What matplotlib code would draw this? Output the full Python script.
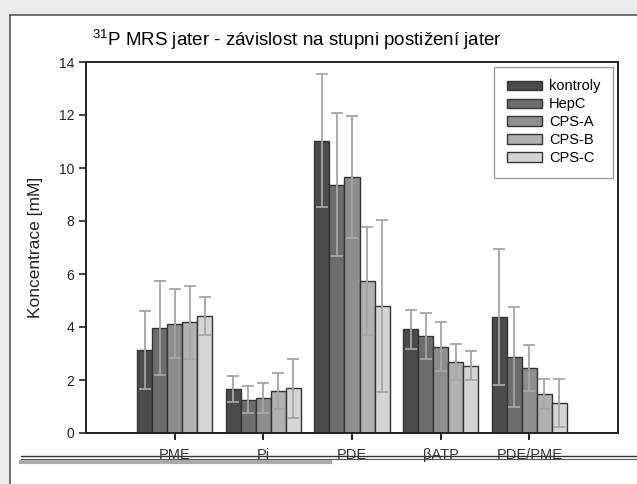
import numpy as np
import matplotlib.pyplot as plt
from matplotlib.patches import Rectangle
from matplotlib.lines import Line2D

plt.rcParams['font.family'] = ['Liberation Sans', 'DejaVu Sans']
plt.rcParams['mathtext.fontset'] = 'custom'
plt.rcParams['mathtext.rm'] = 'Liberation Sans'

# Metabolite concentrations (mean and SD) per patient group
metabolites = ['PME', 'Pi', 'PDE', 'βATP', 'PDE/PME']
groups = ['kontroly', 'HepC', 'CPS-A', 'CPS-B', 'CPS-C']
means = {
    'kontroly': [3.13, 1.66, 11.03, 3.91, 4.38],
    'HepC':     [3.96, 1.25, 9.37, 3.66, 2.87],
    'CPS-A':    [4.13, 1.31, 9.65, 3.26, 2.45],
    'CPS-B':    [4.18, 1.58, 5.75, 2.68, 1.47],
    'CPS-C':    [4.42, 1.69, 4.80, 2.54, 1.13],
}
sds = {
    'kontroly': [1.48, 0.49, 2.52, 0.73, 2.55],
    'HepC':     [1.78, 0.51, 2.69, 0.88, 1.90],
    'CPS-A':    [1.30, 0.56, 2.30, 0.92, 0.87],
    'CPS-B':    [1.38, 0.68, 2.04, 0.67, 0.55],
    'CPS-C':    [0.73, 1.11, 3.24, 0.54, 0.92],
}
colors = ['#4b4b4b', '#6d6d6d', '#8e8e8e', '#b0b0b0', '#d4d4d4']

fig = plt.figure(figsize=(6.37, 4.84), dpi=100, facecolor='#ebebeb')

# white panel behind the chart
fig.patches.append(Rectangle((10 / 637, -0.1), 1.0, 1 - 15 / 484 + 0.1,
                             transform=fig.transFigure, facecolor='white',
                             edgecolor='#555555', linewidth=1.2, zorder=-10))

ax = fig.add_axes([86 / 637, 1 - 433 / 484, 532 / 637, 371 / 484])
ax.set_zorder(5)

x = np.arange(len(metabolites))
w = 0.17
for i, g in enumerate(groups):
    pos = x + (i - 2) * w
    ax.bar(pos, means[g], width=w, color=colors[i], edgecolor='#333333',
           linewidth=1.0, label=g, zorder=2)
    ax.errorbar(pos, means[g], yerr=sds[g], fmt='none', ecolor='#a5a5a5',
                elinewidth=1.3, capsize=4, capthick=1.3, zorder=3)

ax.set_xlim(-1, 5)
ax.set_ylim(0, 14)
ax.set_yticks(range(0, 15, 2))
ax.set_xticks(x)
ax.set_xticklabels(metabolites, fontsize=10.5, color='#333333')
ax.tick_params(axis='y', labelsize=10, length=5, width=1.2, colors='#222222')
ax.tick_params(axis='x', length=5, width=1.2, pad=6)
for s in ax.spines.values():
    s.set_linewidth(1.4)
    s.set_color('#222222')
ax.set_ylabel('Koncentrace [mM]', fontsize=12.5, labelpad=11, color='#222222')

leg = ax.legend(loc='upper right', fontsize=10.5, frameon=True, fancybox=False,
                edgecolor='#888888', handlelength=2.4, handleheight=0.6,
                borderpad=0.85, labelspacing=0.27, handletextpad=0.5,
                borderaxespad=0.34, bbox_to_anchor=(1.0, 1.0))
leg.get_frame().set_linewidth(1.0)

fig.text(297 / 637, 1 - 40 / 484, r'$^{31}$P MRS jater - závislost na stupni postižení jater',
         ha='center', va='center', fontsize=13.5)

# rule lines below the category labels
fig.lines.append(Line2D([21 / 637, 1.0], [1 - 456 / 484] * 2, transform=fig.transFigure,
                        color='#333333', linewidth=1.0))
fig.lines.append(Line2D([21 / 637, 1.0], [1 - 459 / 484] * 2, transform=fig.transFigure,
                        color='#555555', linewidth=0.8))
fig.lines.append(Line2D([21 / 637, 330 / 637], [1 - 462 / 484] * 2, transform=fig.transFigure,
                        color='#aaaaaa', linewidth=3.0))

fig.savefig('out.png', dpi=100, facecolor=fig.get_facecolor())
